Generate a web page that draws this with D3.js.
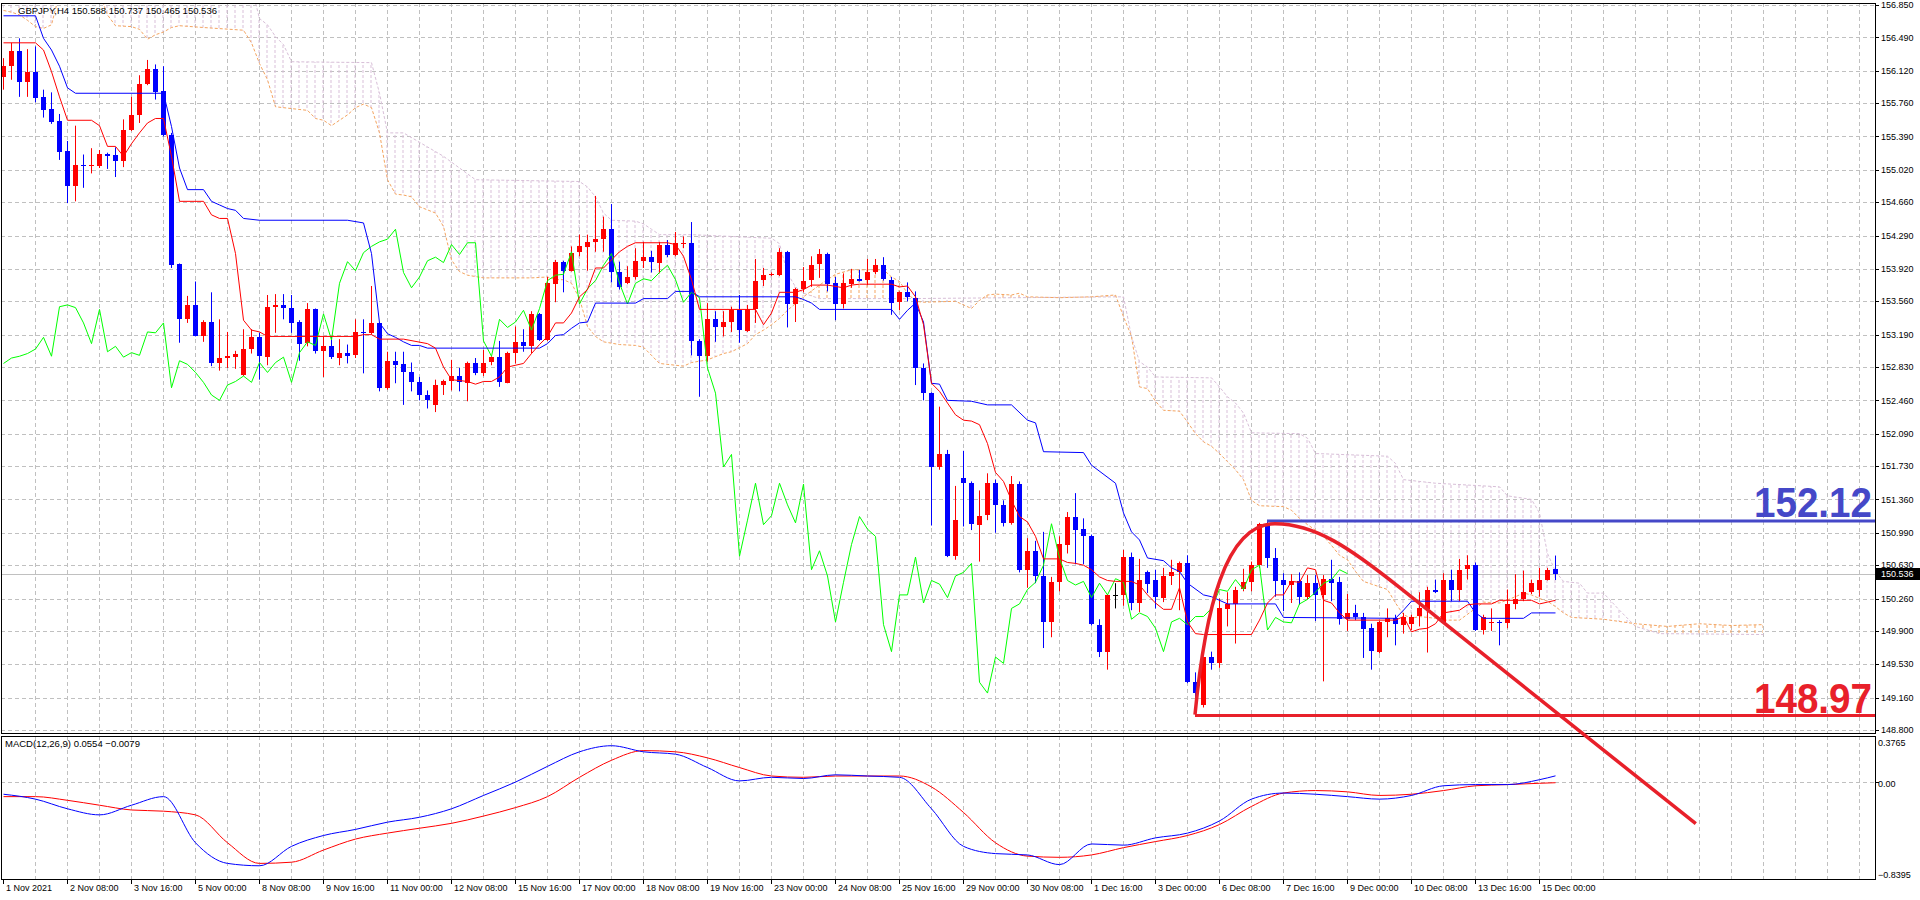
<!DOCTYPE html>
<html>
<head>
<meta charset="utf-8">
<script src="https://cdn.jsdelivr.net/npm/d3@7"></script>
<style>
  html, body { margin: 0; padding: 0; background: #fff; }
  svg { display: block; font-family: "Liberation Sans", Arial, sans-serif; }
</style>
</head>
<body>
<svg id="chart" width="1920" height="900"></svg>
<script>
// GBPJPY H4, 1 Nov 2021 00:00 .. 15 Dec 2021 08:00 (one entry per 4h bar)
const open = [156.05,156.17,156.34,156.00,156.11,155.83,155.69,155.56,155.23,154.84,
  155.07,155.06,155.07,155.20,155.19,155.12,155.46,155.63,155.97,156.14,
  155.89,155.41,153.97,153.36,153.52,153.18,153.33,152.87,152.93,152.95,
  152.74,153.03,153.16,152.95,153.50,153.52,153.49,153.33,153.09,153.47,
  153.00,153.06,152.94,152.99,152.96,153.22,153.21,153.32,152.60,152.90,
  152.86,152.77,152.66,152.52,152.41,152.63,152.67,152.73,152.66,152.88,
  152.77,152.88,152.94,152.66,152.99,153.11,153.07,153.42,153.13,153.76,
  154.00,153.90,154.10,154.17,154.22,154.25,154.36,153.88,153.76,153.83,
  154.01,154.05,153.99,154.19,154.08,154.20,154.21,153.12,152.95,153.36,
  153.27,153.33,153.46,153.24,153.48,153.79,153.85,153.86,154.11,153.53,
  153.70,153.79,153.98,154.09,153.76,153.53,153.76,153.81,153.79,153.88,
  153.96,153.80,153.55,153.66,153.60,152.82,152.54,151.72,151.86,150.73,
  151.60,151.54,151.08,151.18,151.54,151.30,151.10,151.53,150.58,150.79,
  150.51,150.00,150.44,150.86,151.17,151.03,150.95,149.97,149.67,150.30,
  150.30,150.72,150.21,150.55,150.46,150.27,150.51,150.55,150.65,149.33,
  149.08,149.61,149.54,150.15,150.20,150.36,150.44,150.63,151.09,150.71,
  150.46,150.41,150.45,150.27,150.43,150.30,150.48,150.44,150.03,150.10,
  150.06,149.93,149.67,150.00,150.04,149.97,149.98,150.06,150.15,150.36,
  149.99,150.47,150.36,150.59,150.63,149.91,149.99,150.00,149.99,150.20,
  150.25,150.33,150.36,150.47,150.588]
const high = [156.26,156.43,156.48,156.36,156.39,155.91,155.88,155.64,155.34,155.51,
  155.19,155.26,155.24,155.21,155.27,155.58,155.83,156.07,156.24,156.19,
  156.17,155.43,153.98,153.62,153.78,153.35,153.66,153.36,153.22,153.01,
  153.25,153.25,153.21,153.63,153.64,153.64,153.63,153.35,153.54,153.48,
  153.17,153.17,153.14,153.08,153.36,153.36,153.73,153.33,153.00,153.00,
  153.00,152.88,152.72,152.57,152.69,152.69,152.91,152.82,152.89,152.93,
  153.02,152.95,153.12,153.00,153.28,153.25,153.45,153.43,153.83,154.02,
  154.01,154.17,154.30,154.30,154.73,154.50,154.64,154.00,153.95,154.15,
  154.22,154.12,154.22,154.24,154.33,154.28,154.44,153.14,153.54,153.45,
  153.45,153.50,153.63,153.52,154.03,153.93,153.88,154.15,154.12,153.71,
  153.94,154.06,154.14,154.10,153.83,153.87,153.92,153.91,154.03,154.03,
  154.05,153.83,153.67,153.77,153.67,152.87,152.55,152.39,151.91,151.51,
  151.90,151.56,151.46,151.65,151.58,151.35,151.62,151.56,150.93,150.90,
  151.00,150.50,150.95,151.22,151.43,151.15,150.97,150.03,150.31,150.43,
  150.80,150.77,150.70,150.57,150.58,150.60,150.69,150.67,150.74,149.44,
  149.61,149.67,150.26,150.33,150.39,150.59,150.67,151.10,151.11,150.82,
  150.54,150.53,150.55,150.52,150.52,150.52,150.69,150.50,150.31,150.19,
  150.10,149.98,150.01,150.15,150.08,150.10,150.08,150.33,150.39,150.47,
  150.54,150.58,150.70,150.74,150.66,150.08,150.15,150.02,150.36,150.53,
  150.57,150.47,150.60,150.60,150.737]
const low = [155.91,156.02,155.83,155.83,155.77,155.60,155.53,155.13,154.65,154.67,
  154.82,154.98,155.04,155.03,154.94,155.05,155.45,155.54,155.96,155.80,
  155.39,153.93,153.10,153.32,153.17,153.11,152.84,152.79,152.82,152.81,
  152.73,152.98,152.69,152.85,153.21,153.36,153.21,152.90,153.06,152.98,
  152.72,152.92,152.85,152.87,152.93,152.76,153.19,152.56,152.58,152.65,
  152.41,152.56,152.46,152.37,152.33,152.52,152.57,152.56,152.45,152.74,
  152.73,152.85,152.61,152.65,152.87,153.00,152.98,153.12,153.12,153.55,
  153.66,153.89,154.06,153.90,154.11,154.11,153.77,153.69,153.75,153.80,
  153.93,153.88,153.87,154.05,154.06,154.15,152.96,152.50,152.89,153.11,
  153.17,153.22,153.10,153.22,153.32,153.73,153.84,153.84,153.27,153.33,
  153.66,153.72,153.82,153.67,153.35,153.48,153.71,153.78,153.74,153.86,
  153.79,153.41,153.46,153.56,152.63,152.46,151.07,151.69,150.72,150.69,
  151.06,151.02,150.67,151.13,150.99,151.06,151.08,150.55,150.38,150.43,
  149.71,149.83,150.34,150.76,150.64,150.64,149.96,149.61,149.47,150.15,
  150.18,150.13,150.11,150.32,150.15,150.22,150.41,150.13,149.32,149.08,
  149.05,149.47,149.49,149.95,149.76,150.34,150.34,150.60,150.60,150.28,
  150.12,150.21,150.19,150.25,150.01,149.34,150.23,149.97,149.90,150.02,
  149.60,149.47,149.65,149.83,149.74,149.87,149.91,149.95,149.66,150.32,
  149.98,150.23,150.23,150.47,149.90,149.86,149.90,149.74,149.93,150.14,
  150.23,150.31,150.28,150.46,150.465]
const close = [156.17,156.34,156.00,156.11,155.82,155.69,155.55,155.22,154.84,155.07,
  155.06,155.07,155.20,155.18,155.12,155.46,155.63,155.97,156.14,155.89,
  155.40,153.97,153.36,153.52,153.18,153.33,152.87,152.93,152.95,152.98,
  153.03,153.16,152.95,153.50,153.52,153.49,153.32,153.09,153.47,153.00,
  153.06,152.94,152.99,152.96,153.22,153.21,153.32,152.60,152.90,152.86,
  152.77,152.66,152.52,152.46,152.63,152.67,152.73,152.66,152.88,152.77,
  152.88,152.94,152.66,152.99,153.11,153.07,153.42,153.13,153.76,154.00,
  153.90,154.10,154.17,154.22,154.25,154.36,153.88,153.71,153.83,154.01,
  154.05,153.99,154.19,154.08,154.21,154.21,153.12,152.95,153.36,153.27,
  153.33,153.46,153.24,153.48,153.79,153.85,153.86,154.11,153.53,153.70,
  153.79,153.96,154.09,153.76,153.53,153.76,153.81,153.79,153.88,153.96,
  153.80,153.55,153.66,153.60,152.82,152.54,151.72,151.86,150.73,151.13,
  151.54,151.08,151.18,151.54,151.30,151.10,151.53,150.58,150.79,150.51,
  150.00,150.44,150.86,151.17,151.03,150.95,149.97,149.67,150.30,150.30,
  150.72,150.21,150.46,150.42,150.27,150.51,150.55,150.65,149.33,149.21,
  149.61,149.54,150.15,150.20,150.36,150.44,150.63,151.09,150.71,150.46,
  150.41,150.45,150.27,150.43,150.30,150.48,150.44,150.03,150.10,150.06,
  149.93,149.67,150.00,150.04,149.97,150.06,150.06,150.15,150.36,150.34,
  150.47,150.36,150.58,150.63,149.91,150.05,150.00,149.99,150.20,150.25,
  150.33,150.43,150.47,150.58,150.536]

// Ichimoku lines as [bar, price] turning points
const tenkan = [[0,156.43],[4,156.43],[5,156.35],[6,156.11],[7,155.83],[8,155.57],[11,155.57],[12,155.51],
  [13,155.28],[14,155.28],[15,155.17],[16,155.31],[17,155.43],[18,155.54],[19,155.59],[20,155.59],[21,155.17],
  [22,154.67],[25,154.67],[26,154.52],[27,154.48],[28,154.48],[29,154.09],[30,153.35],[31,153.24],[32,153.22],
  [33,153.17],[44,153.17],[45,153.19],[46,153.19],[47,153.14],[50,153.14],[53,153.09],[54,153.04],[55,152.83],
  [56,152.69],[58,152.67],[59,152.64],[60,152.67],[61,152.67],[62,152.72],[63,152.83],[65,152.87],[66,152.98],
  [67,153.08],[68,153.17],[69,153.32],[70,153.32],[71,153.43],[72,153.61],[73,153.69],[74,153.93],[75,153.93],
  [76,154.02],[77,154.11],[78,154.17],[79,154.21],[83,154.21],[84,154.19],[85,154.06],[86,153.80],[87,153.47],
  [94,153.47],[95,153.30],[96,153.43],[97,153.66],[99,153.66],[100,153.69],[101,153.74],[103,153.74],[105,153.71],
  [106,153.74],[107,153.75],[111,153.75],[112,153.72],[113,153.73],[114,153.61],[115,153.30],[116,152.65],
  [117,152.56],[118,152.43],[119,152.30],[120,152.24],[121,152.23],[122,152.19],[123,151.98],[124,151.66],
  [125,151.56],[126,151.35],[127,151.17],[128,151.11],[129,150.95],[130,150.70],[132,150.70],[133,150.66],
  [134,150.65],[135,150.63],[136,150.58],[137,150.50],[138,150.46],[139,150.45],[141,150.45],[142,150.41],
  [143,150.30],[144,150.21],[145,150.14],[146,150.14],[147,150.38],[148,150.00],[149,149.87],[150,149.86],
  [156,149.86],[157,150.02],[158,150.21],[159,150.30],[160,150.30],[161,150.45],[162,150.44],[163,150.60],
  [164,150.58],[165,150.24],[166,150.21],[167,150.10],[168,150.02],[174,150.02],[175,150.06],[176,149.89],
  [177,149.92],[178,149.93],[179,149.98],[180,150.10],[182,150.13],[183,150.19],[184,150.20],[186,150.20],
  [187,150.24],[191,150.24],[192,150.20],[193,150.22],[194,150.24]]
const kijun = [[0,156.73],[4,156.73],[5,156.48],[6,156.35],[7,156.17],[8,155.93],[9,155.87],[20,155.87],
  [21,155.50],[22,155.04],[23,154.80],[25,154.80],[26,154.67],[27,154.63],[28,154.59],[29,154.57],[30,154.48],
  [32,154.46],[43,154.46],[45,154.43],[46,154.09],[47,153.32],[48,153.20],[49,153.16],[50,153.11],[51,153.07],
  [52,153.07],[53,153.04],[67,153.04],[68,153.09],[69,153.18],[70,153.19],[71,153.26],[72,153.32],[73,153.33],
  [74,153.54],[79,153.54],[80,153.59],[83,153.59],[84,153.67],[86,153.67],[87,153.61],[99,153.61],[100,153.58],
  [101,153.54],[102,153.47],[111,153.47],[112,153.36],[113,153.46],[114,153.54],[115,153.33],[116,152.65],
  [117,152.64],[118,152.46],[121,152.45],[123,152.41],[126,152.41],[128,152.24],[129,152.21],[130,151.89],
  [135,151.88],[136,151.74],[139,151.54],[140,151.21],[141,151.00],[142,150.91],[143,150.71],[145,150.68],
  [146,150.60],[147,150.56],[148,150.43],[150,150.30],[151,150.28],[153,150.20],[159,150.20],[160,150.05],
  [174,150.04],[175,150.13],[176,150.23],[183,150.23],[184,150.10],[185,150.04],[190,150.04],[191,150.10],[194,150.10]]
const spanA = [[0,156.79],[1,156.77],[2,156.74],[3,156.68],[4,156.61],[5,156.59],[6,156.63],[7,156.98],
  [12,156.98],[13,156.74],[14,156.62],[16,156.61],[17,156.58],[18,156.47],[19,156.52],[20,156.55],[21,156.60],
  [22,156.62],[25,156.60],[30,156.57],[31,156.43],[32,156.20],[33,156.02],[34,155.72],[36,155.70],[38,155.68],
  [39,155.59],[40,155.57],[41,155.51],[43,155.63],[44,155.71],[45,155.75],[46,155.71],[47,155.43],[48,154.91],
  [49,154.75],[50,154.74],[51,154.72],[52,154.61],[54,154.54],[55,154.39],[56,154.02],[57,153.89],[58,153.85],
  [60,153.82],[66,153.82],[68,153.83],[69,153.80],[70,153.80],[71,153.76],[72,153.59],[73,153.28],[74,153.17],
  [75,153.11],[77,153.08],[79,153.07],[80,153.05],[81,152.96],[82,152.87],[85,152.84],[86,152.88],[88,152.91],
  [90,152.98],[91,153.00],[93,153.09],[94,153.19],[95,153.24],[96,153.30],[97,153.37],[98,153.46],[100,153.61],
  [102,153.74],[104,153.86],[106,153.91],[110,153.91],[111,153.83],[112,153.78],[113,153.65],[114,153.56],
  [115,153.55],[119,153.56],[121,153.48],[122,153.57],[123,153.63],[124,153.64],[126,153.63],[127,153.65],
  [128,153.61],[132,153.60],[136,153.61],[139,153.63],[140,153.39],[141,153.17],[142,152.61],[143,152.59],
  [144,152.45],[145,152.35],[147,152.34],[148,152.22],[149,152.09],[150,152.00],[151,151.95],[152,151.87],
  [153,151.78],[154,151.69],[155,151.58],[156,151.35],[157,151.29],[160,151.28],[161,151.24],[162,151.15],
  [163,151.08],[164,151.02],[165,150.95],[166,150.85],[167,150.74],[168,150.69],[169,150.56],[170,150.45],
  [172,150.39],[173,150.36],[174,150.21],[175,150.08],[176,150.04],[177,150.06],[179,150.04],[180,150.02],
  [182,150.02],[184,150.15],[185,150.22],[187,150.21],[189,150.28],[190,150.32],[191,150.30],[192,150.26],
  [193,150.23],[194,150.17],[195,150.10],[196,150.05],[200,150.03],[204,149.98],[208,149.95],[212,149.98],
  [216,149.96],[220,149.97]]
const spanB = [[0,157.05],[31,157.05],[32,156.70],[33,156.63],[34,156.50],[35,156.41],[36,156.22],[46,156.21],
  [47,155.87],[48,155.43],[50,155.43],[55,155.17],[59,154.91],[72,154.89],[73,154.83],[74,154.72],[75,154.54],
  [76,154.46],[79,154.45],[80,154.42],[81,154.36],[82,154.30],[86,154.30],[96,154.26],[97,154.20],[98,153.87],
  [99,153.72],[100,153.65],[102,153.59],[113,153.59],[140,153.61],[141,153.17],[142,152.89],[143,152.83],
  [144,152.72],[151,152.71],[152,152.61],[153,152.50],[154,152.43],[155,152.32],[156,152.10],[162,152.09],
  [163,152.04],[164,151.87],[173,151.84],[174,151.76],[175,151.58],[179,151.54],[187,151.50],[188,151.40],
  [191,151.36],[192,151.21],[193,150.76],[194,150.56],[195,150.45],[197,150.43],[198,150.32],[200,150.32],
  [202,150.13],[204,149.95],[207,149.87],[220,149.86]]

// MACD(12,26,9), sampled every 4 bars
const macdBars = [0,4,8,12,16,20,24,28,32,36,40,44,48,52,56,60,64,68,72,76,80,84,88,92,96,
  100,104,108,112,116,120,124,128,132,136,140,144,148,152,156,160,164,168,172,176,180,184,188,192,194]
const macdMain = [-0.114,-0.159,-0.248,-0.304,-0.215,-0.136,-0.561,-0.751,-0.773,-0.594,-0.494,-0.438,-0.371,
  -0.326,-0.248,-0.125,-0.002,0.143,0.277,0.333,0.277,0.255,0.132,0.009,0.042,0.031,0.065,0.054,0.042,-0.248,
  -0.594,-0.661,-0.673,-0.762,-0.572,-0.583,-0.516,-0.472,-0.360,-0.159,-0.103,-0.114,-0.136,-0.159,-0.125,
  -0.036,-0.025,-0.025,0.020,0.0554]
const macdSignal = [-0.136,-0.136,-0.170,-0.215,-0.259,-0.270,-0.304,-0.561,-0.751,-0.740,-0.628,-0.527,-0.472,
  -0.427,-0.382,-0.315,-0.237,-0.136,0.042,0.199,0.288,0.277,0.221,0.132,0.054,0.042,0.054,0.054,0.054,-0.047,
  -0.282,-0.561,-0.684,-0.695,-0.673,-0.606,-0.550,-0.494,-0.393,-0.226,-0.103,-0.080,-0.092,-0.125,-0.114,
  -0.080,-0.036,-0.025,-0.013,-0.0079]

const priceTicks = [156.850,156.490,156.120,155.760,155.390,155.020,154.660,154.290,153.920,153.560,153.190,
  152.830,152.460,152.090,151.730,151.360,150.990,150.630,150.260,149.900,149.530,149.160,148.800]
const macdTicks = [0.3765, 0.00, -0.8395]
const timeLabels = ['1 Nov 2021','2 Nov 08:00','3 Nov 16:00','5 Nov 00:00','8 Nov 08:00','9 Nov 16:00',
  '11 Nov 00:00','12 Nov 08:00','15 Nov 16:00','17 Nov 00:00','18 Nov 08:00','19 Nov 16:00','23 Nov 00:00',
  '24 Nov 08:00','25 Nov 16:00','29 Nov 00:00','30 Nov 08:00','1 Dec 16:00','3 Dec 00:00','6 Dec 08:00',
  '7 Dec 16:00','9 Dec 00:00','10 Dec 08:00','13 Dec 16:00','15 Dec 00:00']
const timeLabelBars = d3.range(0, 193, 8)

// hand drawn levels and arc
const resistance = { bar: 158, price: 151.12, label: '152.12' }
const support = { bar: 149, price: 148.96, label: '148.97' }
const arcPoints = [[149, 148.97], [150.25, 150.13], [152.75, 151.09], [159, 151.09],
  [164, 151.09], [168.4, 150.82], [174.6, 150.38], [211.6, 147.76]]

// ---------------------------------------------------------------------------
let main = { left: 1, top: 3, right: 1875, bottom: 733 },
    sub = { top: 736, bottom: 879 }

let x = d3.scaleLinear().domain([0, 1]).range([3, 11])
let y = d3.scaleLinear().domain([156.85, 148.80]).range([5, 730])
let ym = d3.scaleLinear().domain([0.3765, -0.8395]).range([741, 873])

let svg = d3.select('#chart')
let defs = svg.append('defs')

svg.append('rect').attr('width', 1920).attr('height', 900).attr('fill', '#fff')

defs.append('clipPath').attr('id', 'clipMain')
  .append('rect')
  .attr('x', main.left).attr('y', main.top)
  .attr('width', main.right - main.left).attr('height', main.bottom - main.top)
defs.append('clipPath').attr('id', 'clipSub')
  .append('rect')
  .attr('x', main.left).attr('y', sub.top)
  .attr('width', main.right - main.left).attr('height', sub.bottom - sub.top)

// cloud hatching patterns: one dotted stroke per bar
function hatch (id, color) {
  let p = defs.append('pattern')
    .attr('id', id)
    .attr('patternUnits', 'userSpaceOnUse')
    .attr('x', x(0) - 0.5).attr('y', 0)
    .attr('width', x(1) - x(0)).attr('height', 5)
  p.append('rect').attr('x', 0).attr('y', 0).attr('width', 1).attr('height', 3).attr('fill', color)
}
hatch('hatchSandy', '#f4a460')
hatch('hatchThistle', '#d8bfd8')

function regionBelow (knots) {
  return d3.area().x(d => x(d[0])).y0(d => y(d[1])).y1(main.bottom + 400)(knots)
}
function regionAbove (knots) {
  return d3.area().x(d => x(d[0])).y0(d => y(d[1])).y1(main.top - 400)(knots)
}
defs.append('clipPath').attr('id', 'belowA').append('path').attr('d', regionBelow(spanA))
defs.append('clipPath').attr('id', 'aboveA').append('path').attr('d', regionAbove(spanA))
defs.append('clipPath').attr('id', 'belowB').append('path').attr('d', regionBelow(spanB))
defs.append('clipPath').attr('id', 'aboveB').append('path').attr('d', regionAbove(spanB))

let gridColor = '#c0c0c0'

// ---- main panel ----
let plot = svg.append('g').attr('clip-path', 'url(#clipMain)')

plot.append('g').selectAll('line')
  .data(priceTicks)
  .enter().append('line')
  .attr('x1', main.left).attr('x2', main.right)
  .attr('y1', d => Math.round(y(d)) + 0.5).attr('y2', d => Math.round(y(d)) + 0.5)
  .attr('stroke', gridColor).attr('stroke-dasharray', '4,3')

let gridBars = d3.range(4, 234, 4)
plot.append('g').selectAll('line')
  .data(gridBars)
  .enter().append('line')
  .attr('x1', d => x(d) + 0.5).attr('x2', d => x(d) + 0.5)
  .attr('y1', main.top).attr('y2', main.bottom)
  .attr('stroke', gridColor).attr('stroke-dasharray', '4,3')

// kumo
let cloudW = main.right - main.left, cloudH = main.bottom - main.top
plot.append('g').attr('clip-path', 'url(#aboveB)')
  .append('rect')
  .attr('x', main.left).attr('y', main.top).attr('width', cloudW).attr('height', cloudH)
  .attr('fill', 'url(#hatchSandy)').attr('clip-path', 'url(#belowA)')
plot.append('g').attr('clip-path', 'url(#aboveA)')
  .append('rect')
  .attr('x', main.left).attr('y', main.top).attr('width', cloudW).attr('height', cloudH)
  .attr('fill', 'url(#hatchThistle)').attr('clip-path', 'url(#belowB)')

let knotLine = d3.line().x(d => x(d[0]) + 0.5).y(d => y(d[1]))

plot.append('path').attr('d', knotLine(spanB))
  .attr('fill', 'none').attr('stroke', '#d8bfd8').attr('stroke-dasharray', '3,2')
plot.append('path').attr('d', knotLine(spanA))
  .attr('fill', 'none').attr('stroke', '#f4a460').attr('stroke-dasharray', '3,2')

// last price line
let last = close.length - 1
plot.append('line')
  .attr('x1', main.left).attr('x2', main.right)
  .attr('y1', Math.round(y(close[last])) + 0.5).attr('y2', Math.round(y(close[last])) + 0.5)
  .attr('stroke', '#c0c0c0')

// candles
let bars = d3.range(close.length)
function candleColor (i) {
  if (close[i] === open[i]) return '#000'
  return close[i] > open[i] ? '#ff0000' : '#0000ff'
}
let candles = plot.append('g').selectAll('g')
  .data(bars)
  .enter().append('g')

candles.append('line')
  .attr('x1', i => x(i) + 0.5).attr('x2', i => x(i) + 0.5)
  .attr('y1', i => y(high[i])).attr('y2', i => y(low[i]))
  .attr('stroke', candleColor)

candles.append('rect')
  .attr('x', i => x(i) - 2)
  .attr('width', 5)
  .attr('y', i => Math.round(y(Math.max(open[i], close[i]))))
  .attr('height', i => Math.max(1, Math.round(Math.abs(y(open[i]) - y(close[i])))))
  .attr('fill', candleColor)

// chikou span: close shifted 26 bars back
let chikou = bars.filter(i => i + 26 <= last)
plot.append('path')
  .attr('d', d3.line().x(i => x(i) + 0.5).y(i => y(close[i + 26]))(chikou))
  .attr('fill', 'none').attr('stroke', '#00ff00')

plot.append('path').attr('d', knotLine(kijun))
  .attr('fill', 'none').attr('stroke', '#0000ff')
plot.append('path').attr('d', knotLine(tenkan))
  .attr('fill', 'none').attr('stroke', '#ff0000')

// ---- MACD panel ----
let macd = svg.append('g').attr('clip-path', 'url(#clipSub)')

macd.append('line')
  .attr('x1', main.left).attr('x2', main.right)
  .attr('y1', Math.round(ym(0)) + 0.5).attr('y2', Math.round(ym(0)) + 0.5)
  .attr('stroke', gridColor).attr('stroke-dasharray', '4,3')
macd.append('g').selectAll('line')
  .data(gridBars)
  .enter().append('line')
  .attr('x1', d => x(d) + 0.5).attr('x2', d => x(d) + 0.5)
  .attr('y1', sub.top).attr('y2', sub.bottom)
  .attr('stroke', gridColor).attr('stroke-dasharray', '4,3')

let macdLine = d3.line().curve(d3.curveMonotoneX).x((d, k) => x(macdBars[k]) + 0.5).y(d => ym(d))
macd.append('path').attr('d', macdLine(macdSignal))
  .attr('fill', 'none').attr('stroke', '#ff0000')
macd.append('path').attr('d', macdLine(macdMain))
  .attr('fill', 'none').attr('stroke', '#0000ff')

// ---- frames & axes ----
let frame = svg.append('g').attr('fill', 'none').attr('stroke', '#000')
frame.append('rect')
  .attr('x', main.left + 0.5).attr('y', main.top + 0.5)
  .attr('width', main.right - main.left).attr('height', main.bottom - main.top)
frame.append('rect')
  .attr('x', main.left + 0.5).attr('y', sub.top + 0.5)
  .attr('width', main.right - main.left).attr('height', sub.bottom - sub.top)

let axisText = svg.append('g')
  .attr('font-size', 9)
  .attr('fill', '#000')

axisText.selectAll('line.pt')
  .data(priceTicks)
  .enter().append('line')
  .attr('x1', main.right).attr('x2', main.right + 4)
  .attr('y1', d => Math.round(y(d)) + 0.5).attr('y2', d => Math.round(y(d)) + 0.5)
  .attr('stroke', '#000')
axisText.selectAll('text.pt')
  .data(priceTicks)
  .enter().append('text')
  .attr('x', main.right + 6)
  .attr('y', d => y(d))
  .attr('dy', '0.35em')
  .text(d => d3.format('.3f')(d))

axisText.selectAll('text.mt')
  .data(macdTicks)
  .enter().append('text')
  .attr('x', main.right + 3)
  .attr('y', d => Math.max(ym(d) + 2, sub.top + 7))
  .attr('dy', '0.35em')
  .text(d => d === 0 ? '0.00' : d3.format('.4f')(d))
axisText.append('line')
  .attr('x1', main.right).attr('x2', main.right + 4)
  .attr('y1', Math.round(ym(0)) + 0.5).attr('y2', Math.round(ym(0)) + 0.5)
  .attr('stroke', '#000')

axisText.selectAll('line.tt')
  .data(timeLabelBars)
  .enter().append('line')
  .attr('x1', d => x(d) + 0.5).attr('x2', d => x(d) + 0.5)
  .attr('y1', sub.bottom).attr('y2', sub.bottom + 5)
  .attr('stroke', '#000')
axisText.selectAll('text.tt')
  .data(timeLabelBars)
  .enter().append('text')
  .attr('x', d => x(d) + 3)
  .attr('y', sub.bottom + 12)
  .text((d, k) => timeLabels[k])

// current price tag
let tagY = y(close[last])
svg.append('rect')
  .attr('x', main.right + 1).attr('y', Math.round(tagY) - 6)
  .attr('width', 44).attr('height', 12).attr('fill', '#000')
svg.append('text')
  .attr('x', main.right + 6).attr('y', tagY).attr('dy', '0.35em')
  .attr('font-size', 9).attr('fill', '#fff')
  .text(d3.format('.3f')(close[last]))

// headers
svg.append('text')
  .attr('x', 18).attr('y', 14)
  .attr('font-size', 9.5)
  .text('GBPJPY,H4  ' + [open[last], high[last], low[last], close[last]].map(d3.format('.3f')).join(' '))
svg.append('text')
  .attr('x', 5).attr('y', 747)
  .attr('font-size', 9.5)
  .text('MACD(12,26,9) ' + d3.format('.4f')(macdMain[macdMain.length - 1]) + ' ' +
    d3.format('.4f')(macdSignal[macdSignal.length - 1]))

// ---- annotations ----
let notes = svg.append('g')
notes.append('line')
  .attr('x1', x(resistance.bar)).attr('x2', main.right)
  .attr('y1', y(resistance.price)).attr('y2', y(resistance.price))
  .attr('stroke', '#4548c8').attr('stroke-width', 3)
notes.append('line')
  .attr('x1', x(support.bar)).attr('x2', main.right)
  .attr('y1', y(support.price)).attr('y2', y(support.price))
  .attr('stroke', '#e8202a').attr('stroke-width', 3)

let p = arcPoints.map(d => [x(d[0]), y(d[1])])
let arc = d3.path()
arc.moveTo(p[0][0], p[0][1])
arc.bezierCurveTo(p[1][0], p[1][1], p[2][0], p[2][1], p[3][0], p[3][1])
arc.bezierCurveTo(p[4][0], p[4][1], p[5][0], p[5][1], p[6][0], p[6][1])
arc.lineTo(p[7][0], p[7][1])
notes.append('path')
  .attr('d', arc.toString())
  .attr('fill', 'none').attr('stroke', '#e8202a').attr('stroke-width', 3.5)

notes.append('text')
  .attr('x', main.right - 3).attr('y', y(resistance.price) - 4)
  .attr('text-anchor', 'end')
  .attr('font-size', 42).attr('font-weight', 'bold')
  .attr('textLength', 118).attr('lengthAdjust', 'spacingAndGlyphs')
  .attr('fill', '#4548c8')
  .text(resistance.label)
notes.append('text')
  .attr('x', main.right - 3).attr('y', y(support.price) - 3)
  .attr('text-anchor', 'end')
  .attr('font-size', 42).attr('font-weight', 'bold')
  .attr('textLength', 118).attr('lengthAdjust', 'spacingAndGlyphs')
  .attr('fill', '#e8202a')
  .text(support.label)
</script>
</body>
</html>
